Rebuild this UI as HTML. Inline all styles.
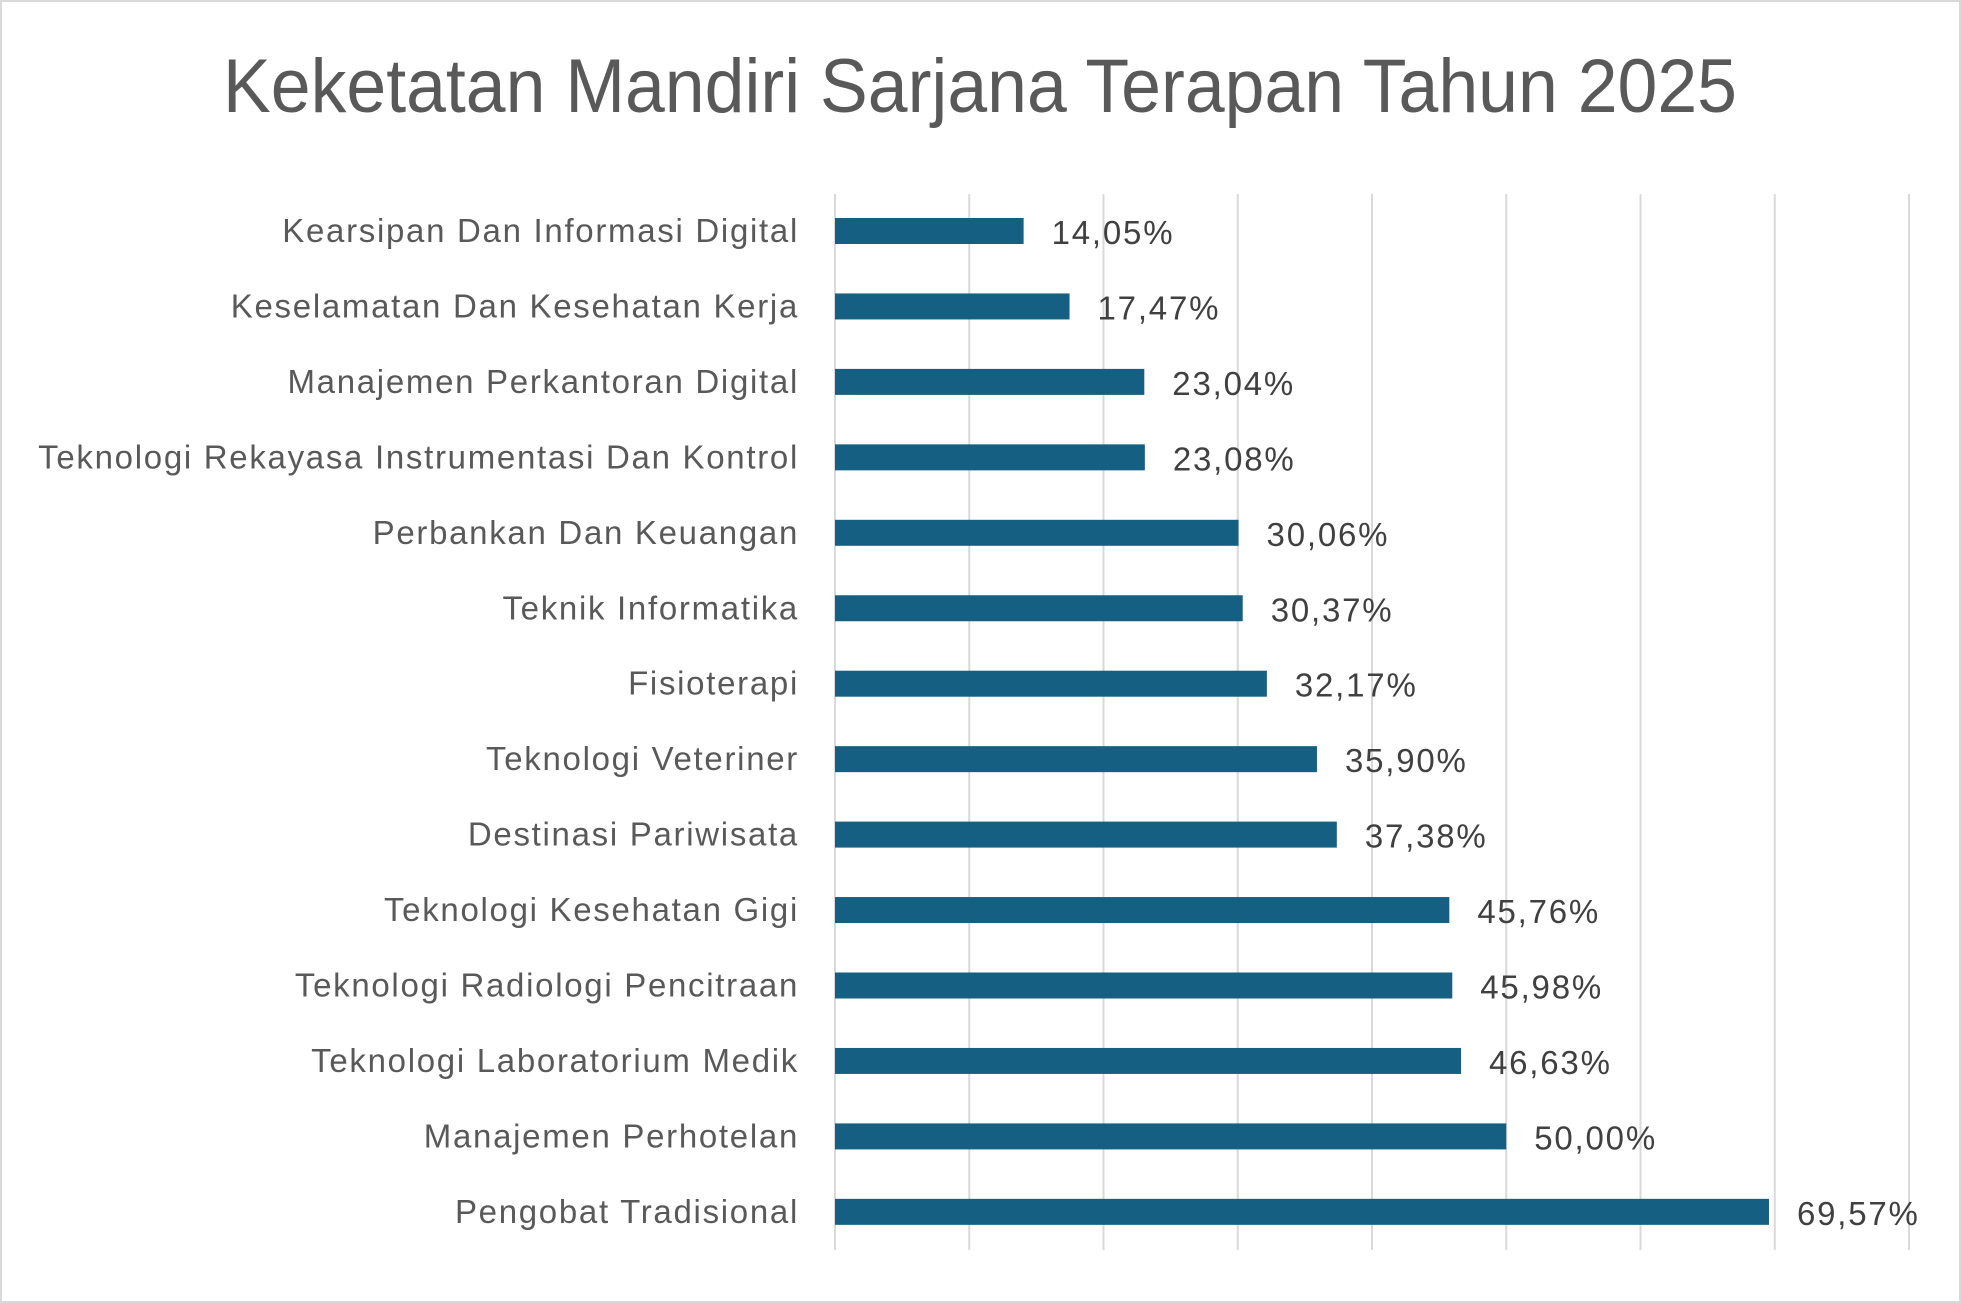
<!DOCTYPE html>
<html><head><meta charset="utf-8"><style>
html,body{margin:0;padding:0;background:#fff;}
svg{display:block;font-family:"Liberation Sans",sans-serif;}
</style></head><body>
<svg id="chart" width="1961" height="1303" viewBox="0 0 1961 1303">
<rect x="1" y="1" width="1959" height="1301" fill="#fff" stroke="#d9d9d9" stroke-width="2"/>
<text x="980" y="112" text-anchor="middle" font-size="76" fill="#595959" textLength="1514" lengthAdjust="spacingAndGlyphs">Keketatan Mandiri Sarjana Terapan Tahun 2025</text>
<g id="grid"></g><g id="bars"></g>
</svg>
<script>
const categories=["Kearsipan Dan Informasi Digital","Keselamatan Dan Kesehatan Kerja","Manajemen Perkantoran Digital","Teknologi Rekayasa Instrumentasi Dan Kontrol","Perbankan Dan Keuangan","Teknik Informatika","Fisioterapi","Teknologi Veteriner","Destinasi Pariwisata","Teknologi Kesehatan Gigi","Teknologi Radiologi Pencitraan","Teknologi Laboratorium Medik","Manajemen Perhotelan","Pengobat Tradisional"];
const values=[14.05,17.47,23.04,23.08,30.06,30.37,32.17,35.90,37.38,45.76,45.98,46.63,50.00,69.57];
const ticks=[0,10,20,30,40,50,60,70,80];
const NS="http://www.w3.org/2000/svg";
const x0=835,x1=1909,xmax=80;
const xs=v=>x0+(x1-x0)*v/xmax;
const yTop=194,yBot=1250,yFirst=231,step=75.45;
const ys=i=>yFirst+i*step;
const grid=document.getElementById('grid'),bars=document.getElementById('bars');
function mk(t,a,p){const e=document.createElementNS(NS,t);for(const k in a)e.setAttribute(k,a[k]);p.appendChild(e);return e;}
ticks.forEach(t=>{
 const l=mk('line',{x1:xs(t),x2:xs(t),y1:yTop,y2:yBot,stroke:'#d9d9d9','stroke-width':2},grid);
 
 
});
categories.forEach((c,i)=>{
 const y=ys(i);
 const r=mk('rect',{x:x0,y:y-13,width:xs(values[i])-x0,height:26,fill:'#156082'},bars);
 
 
 const lt=mk('text',{x:799,y:y+11,'text-anchor':'end','font-size':33,'letter-spacing':1.7,fill:'#595959'},bars);
 lt.textContent=c;
 
 
 const vt=mk('text',{x:xs(values[i])+28,y:y+13,'font-size':33,'letter-spacing':1.8,fill:'#404040'},bars);
 vt.textContent=values[i].toFixed(2).replace('.',',')+'%';
 
 
});
</script>
</body></html>
